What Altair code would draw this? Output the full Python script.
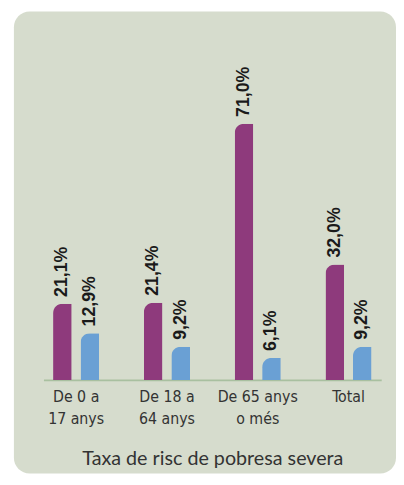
import altair as alt
import pandas as pd

categories = ["De 0 a|17 anys", "De 18 a|64 anys", "De 65 anys|o més", "Total"]
series = ["Sèrie 1", "Sèrie 2"]
values_s1 = [21.1, 21.4, 71.0, 32.0]
values_s2 = [12.9, 9.2, 6.1, 9.2]
colors = ["#8e3a7c", "#6aa0d4"]
title_text = "Taxa de risc de pobresa severa"

rows = []
for c, a, b in zip(categories, values_s1, values_s2):
    for s, v in zip(series, [a, b]):
        rows.append({"cat": c, "serie": s, "val": v,
                     "label": f"{v:.1f}".replace(".", ",") + "%"})
df = pd.DataFrame(rows)

x = alt.X("cat:N", sort=categories,
          scale=alt.Scale(range=[30, 373], paddingInner=0.28, paddingOuter=0),
          axis=alt.Axis(title=title_text, labelAngle=0, ticks=False, tickSize=0,
                        domainColor="#a9c0a0", domainWidth=2, offset=-95,
                        labelExpr="split(datum.label, '|')",
                        labelFont="Liberation Sans Narrow, DejaVu Sans Condensed, sans-serif",
                        labelFontSize=16, labelColor="#333333", labelPadding=9,
                        labelLineHeight=22, labelBaseline="top",
                        titleFont="Lato, sans-serif", titleFontSize=20,
                        titleFontWeight="normal", titleColor="#333333",
                        titlePadding=23))
xo = alt.XOffset("serie:N", sort=series,
                 scale=alt.Scale(paddingInner=0.32, paddingOuter=0.35))
y = alt.Y("val:Q", scale=alt.Scale(domain=[0, 71], range=[374, 114], nice=False),
          axis=None)

bars = alt.Chart(df).mark_bar(cornerRadiusTopLeft=14).encode(
    x=x, xOffset=xo, y=y,
    color=alt.Color("serie:N", sort=series,
                    scale=alt.Scale(domain=series, range=colors), legend=None),
)

labels = alt.Chart(df).mark_text(
    angle=270, align="left", baseline="middle", dx=7,
    font="Liberation Sans, Arial, sans-serif", fontWeight="bold", fontSize=18,
    color="#1a1a1a",
).encode(x=x, xOffset=xo, y=y, text="label:N")

chart = (bars + labels).properties(
    width=388, height=469,
    autosize=alt.AutoSizeParams(type="none"),
    padding={"left": 6, "top": 0, "right": 0, "bottom": 0},
    background="white",
).configure_view(fill="#d6dccd", stroke=None, cornerRadius=16)

chart.save("out.html", embed_options={"renderer": "svg", "actions": False})
